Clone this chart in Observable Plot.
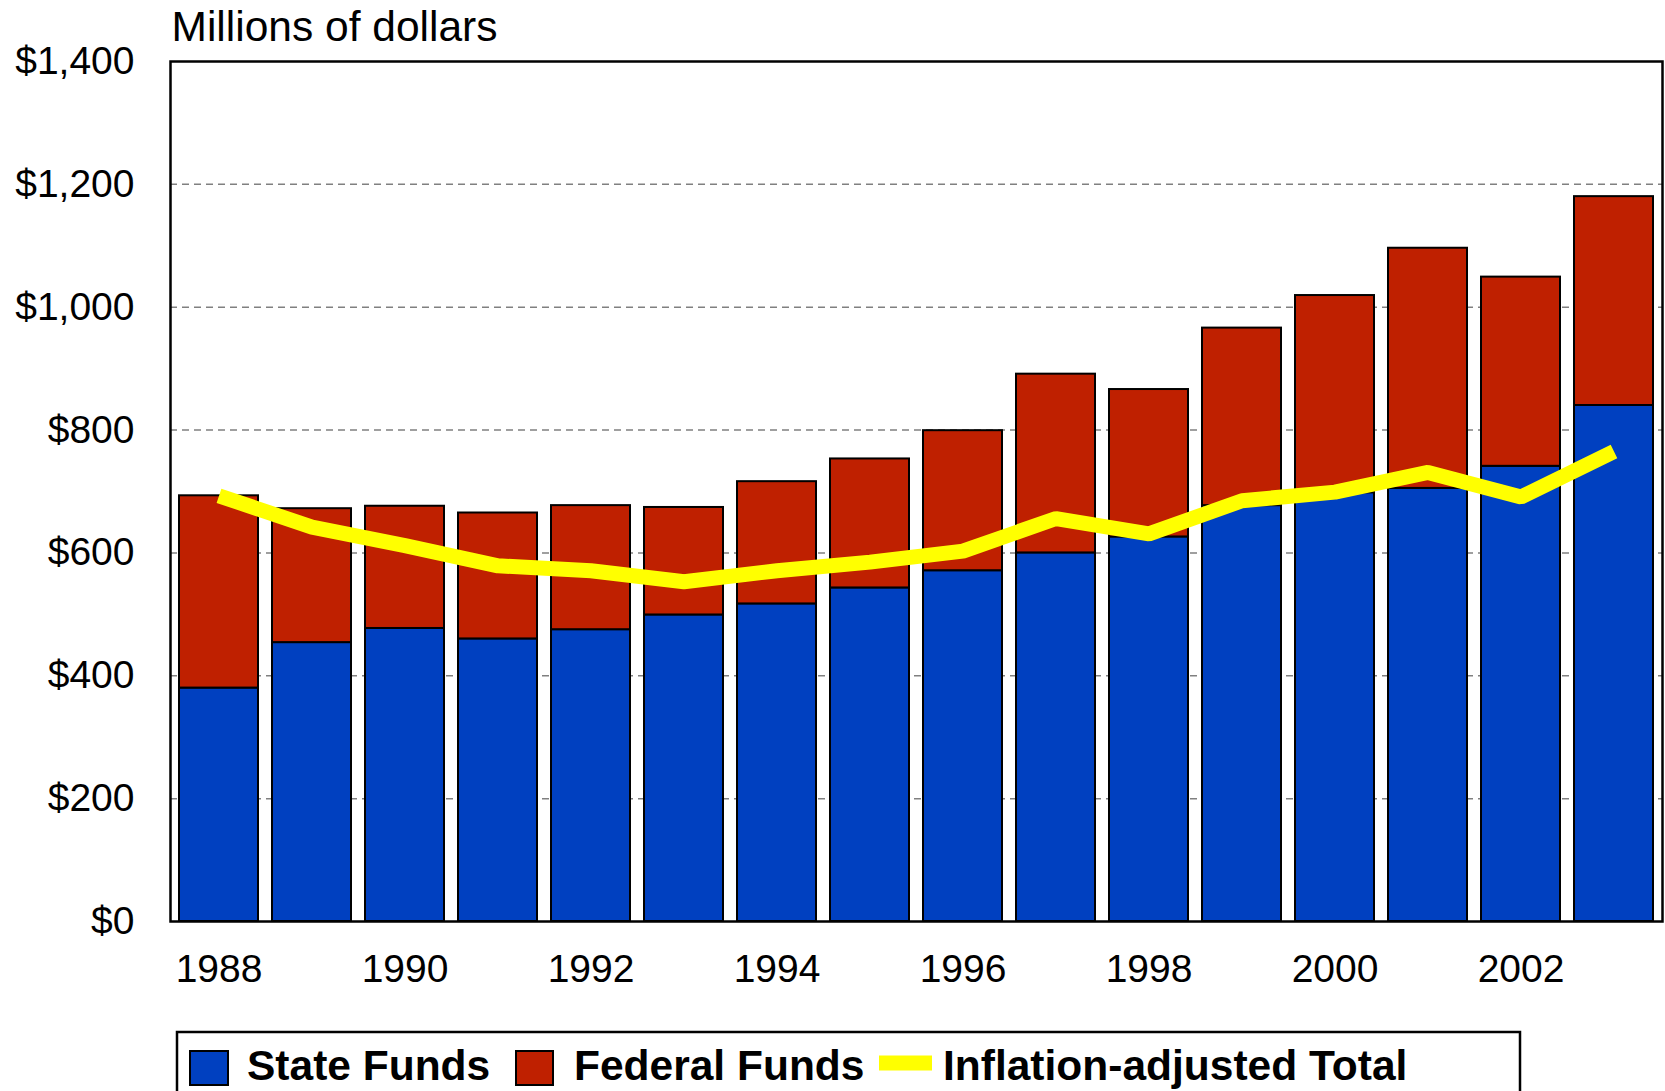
<!DOCTYPE html>
<html><head><meta charset="utf-8">
<script src="https://cdn.jsdelivr.net/npm/d3@7"></script>
<script src="https://cdn.jsdelivr.net/npm/@observablehq/plot@0.6"></script>
<style>
html,body{margin:0;padding:0;background:#fff;overflow:hidden;width:1665px;height:1091px}
#chart svg,#legend svg{display:block}
</style></head><body>
<div id="chart"></div>
<div id="legend"></div>
<script>
const years = [1988,1989,1990,1991,1992,1993,1994,1995,1996,1997,1998,1999,2000,2001,2002,2003];
const stateFunds = [380,454,477,460,475,499,517,543,571,600,626,677,698,705,741,840];
const federalFunds = [313,218,199,205,202,175,199,210,228,291,240,289,321,391,308,340];
const inflationAdjusted = [693,642,612,579,571,553,571,585,603,656,631,685,699,731,691,765];
const yTicks = [0,200,400,600,800,1000,1200,1400];
const xTickYears = [1988,1990,1992,1994,1996,1998,2000,2002];
const seriesNames = ["State Funds","Federal Funds","Inflation-adjusted Total"];
const seriesColors = ["#0040C0","#BF2000","#FFFF00"];
const title = "Millions of dollars";
const font = "'Liberation Sans', Arial, Helvetica, sans-serif";

const bars = years.flatMap((year,i)=>[
  {year, series: seriesNames[0], value: stateFunds[i]},
  {year, series: seriesNames[1], value: federalFunds[i]}
]);
const lineData = years.map((year,i)=>({year, value: inflationAdjusted[i]}));

const chart = Plot.plot({
  width:1665, height:1025, marginLeft:170, marginRight:3, marginTop:61, marginBottom:104,
  style:{fontFamily:font, fontSize:"39px", color:"#000", background:"#fff"},
  x:{type:"band", domain:years, paddingInner:0.15, paddingOuter:0.075, tickSize:0, tickPadding:33,
     tickFormat:d => xTickYears.includes(d) ? String(d) : "", label:null},
  y:{domain:[0,1400], ticks:yTicks, tickSize:0, tickPadding:36,
     tickFormat:d => "$" + d3.format(",")(d), label:null},
  color:{domain:seriesNames.slice(0,2), range:seriesColors.slice(0,2)},
  marks:[
    Plot.ruleY(yTicks.slice(1,-1), {stroke:"#808080", strokeWidth:1.5, strokeDasharray:"7,5"}),
    Plot.barY(bars, {x:"year", y:"value", fill:"series", stroke:"#000", strokeWidth:2}),
    Plot.line(lineData, {x:"year", y:"value", stroke:seriesColors[2], strokeWidth:15, strokeLinecap:"butt", strokeLinejoin:"miter"}),
    Plot.frame({stroke:"#000", strokeWidth:2.5}),
    Plot.text([title], {text:d=>d, frameAnchor:"top-left", textAnchor:"start", lineAnchor:"middle", dx:1, dy:-34, fontSize:42.5, fill:"#000"})
  ]
});
document.getElementById("chart").appendChild(chart);

// Legend below the chart
const lg = d3.select("#legend").append("svg").attr("width",1665).attr("height",66);
lg.append("rect").attr("x",177).attr("y",7).attr("width",1343).attr("height",90)
  .attr("fill","#fff").attr("stroke","#000").attr("stroke-width",2.5);
const items = [
  {name:seriesNames[0], color:seriesColors[0], sx:190, sw:38, sy:26, sh:34, outline:true, tx:247},
  {name:seriesNames[1], color:seriesColors[1], sx:516, sw:37, sy:26, sh:34, outline:true, tx:574},
  {name:seriesNames[2], color:seriesColors[2], sx:879, sw:53, sy:30.5, sh:15, outline:false, tx:943}
];
const g = lg.selectAll("g").data(items).join("g");
g.append("rect").attr("x",d=>d.sx).attr("y",d=>d.sy).attr("width",d=>d.sw).attr("height",d=>d.sh)
  .attr("fill",d=>d.color).attr("stroke",d=>d.outline?"#000":"none").attr("stroke-width",2);
g.append("text").attr("x",d=>d.tx).attr("y",55).text(d=>d.name)
  .attr("font-family",font).attr("font-size",42.5).attr("font-weight","bold").attr("fill","#000");
</script>
</body></html>
